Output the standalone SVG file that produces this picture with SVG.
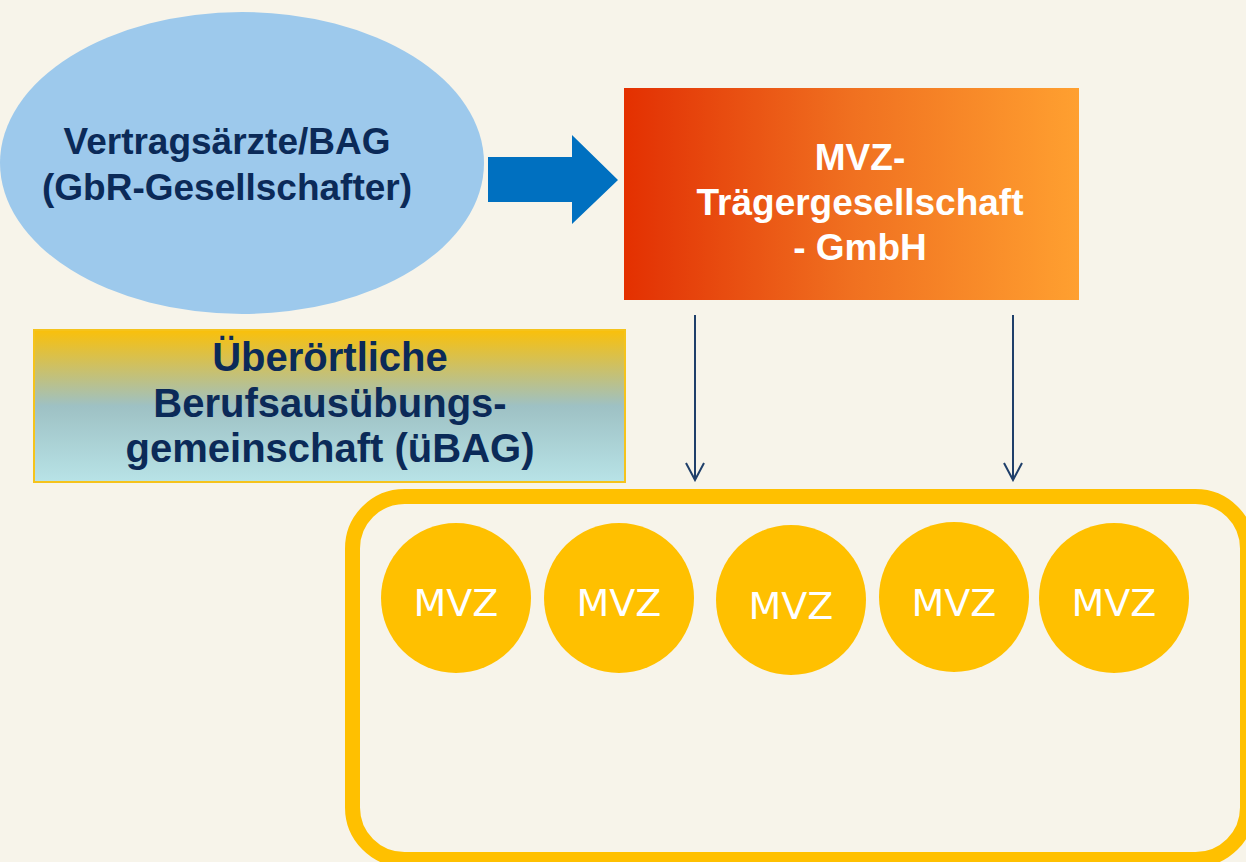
<svg xmlns="http://www.w3.org/2000/svg" width="1246" height="862" viewBox="0 0 1246 862">
  <defs>
    <linearGradient id="gOrange" x1="0" y1="0" x2="1" y2="0">
      <stop offset="0" stop-color="#E43000"/>
      <stop offset="0.08" stop-color="#E43A08"/>
      <stop offset="0.5" stop-color="#F07020"/>
      <stop offset="1" stop-color="#FFA030"/>
    </linearGradient>
    <linearGradient id="gBag" x1="0" y1="0" x2="0" y2="1">
      <stop offset="0" stop-color="#FAC00A"/>
      <stop offset="0.5" stop-color="#9EC1C4"/>
      <stop offset="1" stop-color="#B8E3E7"/>
    </linearGradient>
    <marker id="vhead" markerWidth="20" markerHeight="24" refX="18" refY="10" orient="auto" markerUnits="userSpaceOnUse" viewBox="0 0 20 20">
      <path d="M1 1 L18 10 L1 19" fill="none" stroke="#1F3F6A" stroke-width="2"/>
    </marker>
  </defs>
  <style>
    .bold { font-family: "Liberation Sans", Arial, sans-serif; font-weight: bold; text-anchor: middle; }
    .s37 { font-size: 37px; }
    .s40 { font-size: 40px; }
    .navy { fill: #0B2A58; }
    .white { fill: #FFFFFF; }
    .mvz { fill: #FFC000; }
    .mvzt { font-family: "DejaVu Sans", Verdana, sans-serif; font-size: 38px; fill: #FFFFFF; text-anchor: middle; }
    .conn { stroke: #1F3F6A; stroke-width: 2; fill: none; }
  </style>
  <rect width="1246" height="862" fill="#F7F4EA"/>

  <g id="vertragsaerzte">
    <ellipse cx="242" cy="163" rx="242" ry="151" fill="#9DC9EC"/>
    <text class="bold s37 navy" x="227" y="154">Vertragsärzte/BAG</text>
    <text class="bold s37 navy" x="227" y="200">(GbR-Gesellschafter)</text>
  </g>

  <g id="traeger">
    <rect x="624" y="88" width="455" height="212" fill="url(#gOrange)"/>
    <text class="bold s37 white" x="860" y="170">MVZ-</text>
    <text class="bold s37 white" x="860" y="215">Trägergesellschaft</text>
    <text class="bold s37 white" x="860" y="260">- GmbH</text>
  </g>

  <g id="uebag">
    <rect x="34" y="330" width="591" height="152" fill="url(#gBag)" stroke="#F5C31C" stroke-width="2"/>
    <text class="bold s40 navy" x="330" y="371">Überörtliche</text>
    <text class="bold s40 navy" x="330" y="417">Berufsausübungs-</text>
    <text class="bold s40 navy" x="330" y="462">gemeinschaft (üBAG)</text>
  </g>

  <g id="container">
    <rect x="352.5" y="496.5" width="895" height="363" rx="52" ry="52" fill="none" stroke="#FFC000" stroke-width="15"/>
  </g>

  <g id="mvz1"><circle class="mvz" cx="456" cy="598" r="75"/><text class="mvzt" x="456" y="616">MVZ</text></g>
  <g id="mvz2"><circle class="mvz" cx="619" cy="598" r="75"/><text class="mvzt" x="619" y="616">MVZ</text></g>
  <g id="mvz3"><circle class="mvz" cx="791" cy="600" r="75"/><text class="mvzt" x="791" y="619">MVZ</text></g>
  <g id="mvz4"><circle class="mvz" cx="954" cy="597" r="75"/><text class="mvzt" x="954" y="616">MVZ</text></g>
  <g id="mvz5"><circle class="mvz" cx="1114" cy="598" r="75"/><text class="mvzt" x="1114" y="616">MVZ</text></g>

  <g id="connectors">
    <path d="M488 157 H572 V135 L618 180 L572 224 V202 H488 Z" fill="#0070C0"/>
    <line class="conn" x1="695" y1="315" x2="695" y2="480" marker-end="url(#vhead)"/>
    <line class="conn" x1="1013" y1="315" x2="1013" y2="480" marker-end="url(#vhead)"/>
  </g>
</svg>
